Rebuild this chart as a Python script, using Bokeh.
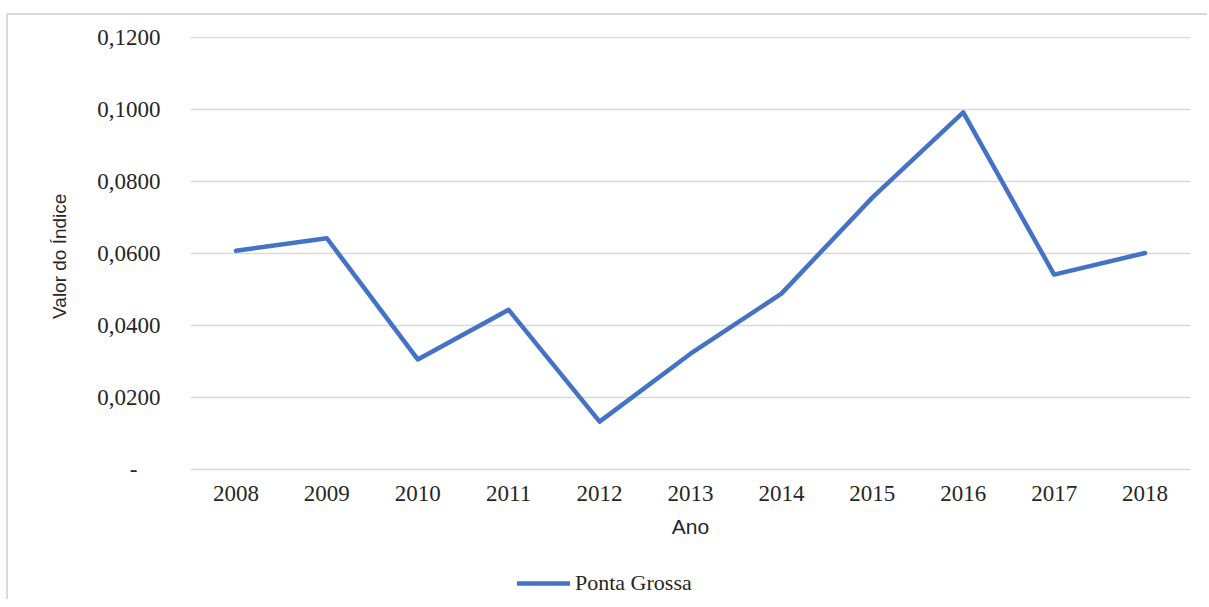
from bokeh.plotting import figure
from bokeh.models import (Range1d, FactorRange, Legend, LegendItem, FixedTicker,
                          CustomJSTickFormatter, CategoricalAxis)
from bokeh.embed import file_html
from bokeh.resources import INLINE

years = ["2008", "2009", "2010", "2011", "2012", "2013", "2014", "2015", "2016", "2017", "2018"]
values = [0.0608, 0.0643, 0.0306, 0.0444, 0.0133, 0.0322, 0.0489, 0.0756, 0.0993, 0.0542, 0.0602]
series_name = "Ponta Grossa"
y_ticks = [0.0, 0.02, 0.04, 0.06, 0.08, 0.10, 0.12]
y_tick_labels = ["-\u00a0\u00a0\u00a0\u00a0", "0,0200", "0,0400", "0,0600", "0,0800", "0,1000", "0,1200"]
x_title = "Ano"
y_title = "Valor do Índice"

SERIF = "Liberation Serif"
SANS = "Liberation Sans"
TXT = "#262626"

# frame extends below zero so the axis texts and the legend sit inside it
p = figure(
    x_range=FactorRange(*years), y_range=Range1d(-0.0356, 0.1204),
    frame_width=1000, frame_height=561,
    min_border_left=182, min_border_right=17, min_border_top=21, min_border_bottom=2,
    x_axis_location=None,
    output_backend="svg", toolbar_location=None,
)
# light-gray chart border (top/left visible, as in the cropped reference)
p.styles = {"border-left": "2px solid #d9d9d9", "border-top": "2px solid #d9d9d9",
            "margin-top": "13px", "margin-left": "6px"}

r = p.line(x=years, y=values, line_width=4.5, line_color="#4472C4", line_join="round", line_cap="round")

p.outline_line_color = None
p.xgrid.visible = False
p.xgrid.grid_line_color = None
p.ygrid.grid_line_color = "#d9d9d9"
p.ygrid.grid_line_width = 1.5

xaxis = CategoricalAxis(fixed_location=0)
xaxis.axis_line_color = None
xaxis.major_tick_line_color = None
xaxis.minor_tick_line_color = None
xaxis.major_label_text_font = SERIF
xaxis.major_label_text_font_size = "23px"
xaxis.major_label_text_color = TXT
xaxis.major_label_standoff = 11
xaxis.axis_label = x_title
xaxis.axis_label_text_font = SANS
xaxis.axis_label_text_font_size = "21px"
xaxis.axis_label_text_font_style = "normal"
xaxis.axis_label_text_color = TXT
xaxis.axis_label_standoff = 10
p.add_layout(xaxis, "below")

p.yaxis.ticker = FixedTicker(ticks=y_ticks)
p.yaxis.formatter = CustomJSTickFormatter(
    args=dict(tick_vals=y_ticks, tick_texts=y_tick_labels),
    code="const i = tick_vals.findIndex(t => Math.abs(t - tick) < 1e-9); return i >= 0 ? tick_texts[i] : '';",
)
p.yaxis.axis_line_color = None
p.yaxis.major_tick_line_color = None
p.yaxis.minor_tick_line_color = None
p.yaxis.major_label_text_font = SERIF
p.yaxis.major_label_text_font_size = "23px"
p.yaxis.major_label_text_color = TXT
p.yaxis.major_label_standoff = 24
# leading no-break spaces keep the visible title centred on the 0–0,12 span
p.yaxis.axis_label = "\u00a0" * 23 + y_title
p.yaxis.axis_label_text_font = SANS
p.yaxis.axis_label_text_font_size = "19px"
p.yaxis.axis_label_text_font_style = "normal"
p.yaxis.axis_label_text_color = TXT
p.yaxis.axis_label_standoff = 24

legend = Legend(
    items=[LegendItem(label=series_name, renderers=[r])],
    location=(327, 1), orientation="horizontal",
    label_text_font=SERIF, label_text_font_size="22px", label_text_color=TXT,
    glyph_width=53, glyph_height=20, label_height=20, label_standoff=5,
    padding=0, margin=0, spacing=0,
    border_line_color=None, background_fill_alpha=0,
)
p.add_layout(legend, "center")

open("out.html", "w").write(file_html(p, INLINE))
